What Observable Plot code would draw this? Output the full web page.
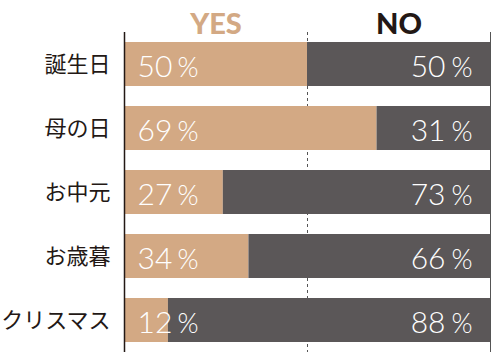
<!DOCTYPE html>
<html><head><meta charset="utf-8">
<script src="https://cdn.jsdelivr.net/npm/d3@7"></script>
<script src="https://cdn.jsdelivr.net/npm/@observablehq/plot@0.6"></script>
<style>
body{margin:0;background:#fff;}
svg{display:block;}
</style></head>
<body><div id="chart"></div>
<script>
const categories = ["誕生日","母の日","お中元","お歳暮","クリスマス"];
const yesValues = [50,69,27,34,12];
const noValues = [50,31,73,66,88];
const headers = ["YES","NO"];

const rows = categories.map((c,i)=>({cat:c, yes:yesValues[i], no:noValues[i]}));
const tan = "#d3a984", dark = "#5b5758", ink = "#231815";
const numFont = "Lato, 'Open Sans', sans-serif";

const chart = Plot.plot({
  width: 500, height: 360,
  marginLeft: 124, marginRight: 10, marginTop: 32, marginBottom: 8,
  style: {fontFamily: "'Noto Sans CJK JP', sans-serif", background: "#fff"},
  x: {domain: [0,100], axis: null},
  y: {domain: categories, paddingInner: 0.3125, paddingOuter: 0.156, axis: null},
  marks: [
    Plot.ruleX([50], {stroke: "#555", strokeWidth: 1, strokeDasharray: "3,3"}),
    Plot.barX(rows, {y: "cat", x1: 0, x2: "yes", fill: tan}),
    Plot.barX(rows, {y: "cat", x1: "yes", x2: 100, fill: dark}),
    Plot.ruleX([0], {stroke: ink, strokeWidth: 1.5}),
    Plot.ruleX([100], {stroke: "#555", strokeWidth: 1}),
    Plot.axisY({tickSize: 0, tickPadding: 14, fontSize: 22, fill: ink, label: null}),
    // YES numbers
    Plot.text(rows, {y: "cat", x: 0, text: d => String(d.yes), textAnchor: "start", dx: 13, dy: 3, fill: "#fff", fontSize: 30, fontFamily: numFont, fontWeight: 300}),
    Plot.text(rows, {y: "cat", x: 0, text: d => "%", textAnchor: "end", dx: 74, dy: 4, fill: "#fff", fontSize: 27, fontFamily: numFont, fontWeight: 300}),
    // NO numbers
    Plot.text(rows, {y: "cat", x: 100, text: d => String(d.no), textAnchor: "end", dx: -45, dy: 3, fill: "#fff", fontSize: 30, fontFamily: numFont, fontWeight: 300}),
    Plot.text(rows, {y: "cat", x: 100, text: d => "%", textAnchor: "end", dx: -18, dy: 4, fill: "#fff", fontSize: 27, fontFamily: numFont, fontWeight: 300}),
    // headers
    Plot.text([headers[0]], {x: 25, frameAnchor: "top", lineAnchor: "bottom", text: d => d, dy: 1, fill: tan, fontSize: 29, fontWeight: 900, fontFamily: "Lato, Roboto, sans-serif"}),
    Plot.text([headers[1]], {x: 75, frameAnchor: "top", lineAnchor: "bottom", text: d => d, dy: 1, fill: ink, fontSize: 29, fontWeight: 900, fontFamily: "Lato, Roboto, sans-serif"})
  ]
});
document.getElementById("chart").append(chart);
</script></body></html>
